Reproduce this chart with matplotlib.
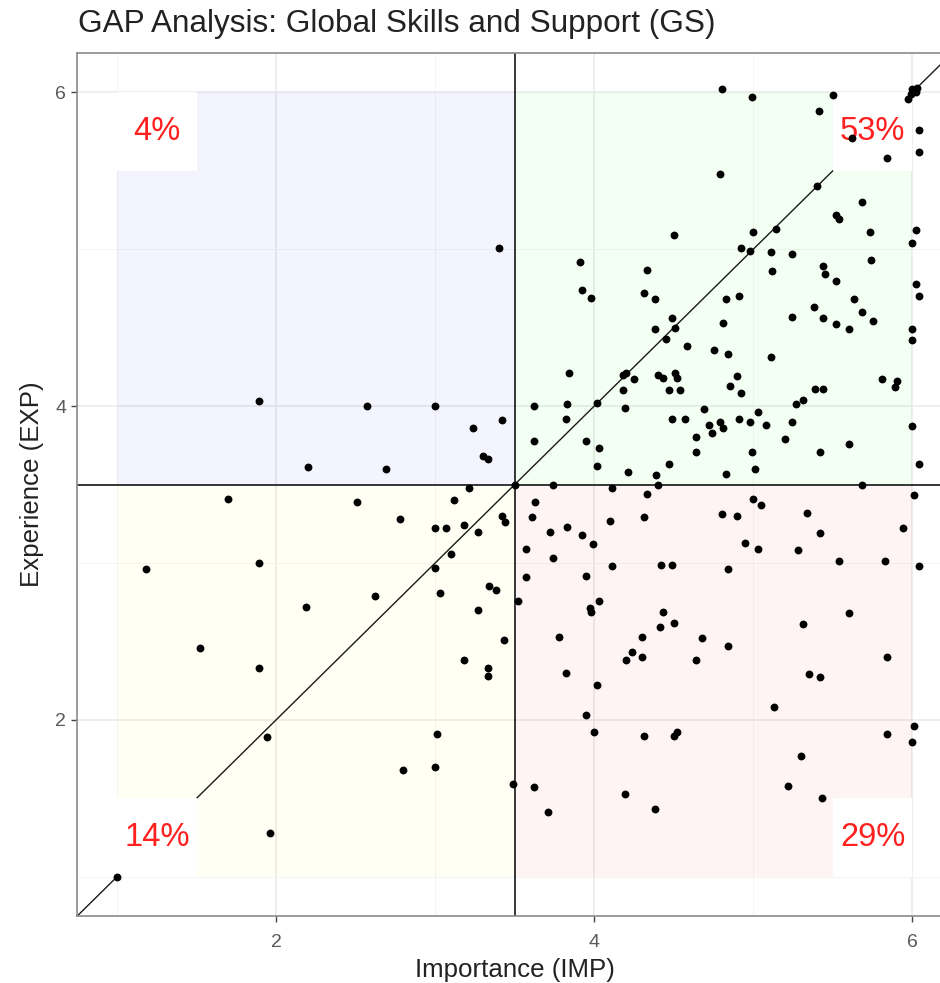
import matplotlib
matplotlib.use("Agg")
import matplotlib.pyplot as plt
from matplotlib.patches import Rectangle

plt.rcParams['font.family'] = ['Liberation Sans', 'DejaVu Sans']

title = "GAP Analysis: Global Skills and Support (GS)"
x_label = "Importance (IMP)"
y_label = "Experience (EXP)"

# quadrant labels (share of respondents)
quad_labels = ["4%", "53%", "14%", "29%"]

# Importance (IMP) / Experience (EXP) per respondent
imp = [
    # upper-left
    1.89, 2.57, 2.20, 2.69, 3.00, 3.40, 3.24, 3.42, 3.30, 3.33,
    # centre
    3.50,
    # lower-left
    1.70, 2.51, 1.18, 1.89, 2.62, 2.19, 1.52, 1.89, 1.94, 1.96, 1.00,
    3.21, 3.12, 2.78, 3.00, 3.07, 3.18, 3.27, 3.42, 3.44, 3.10, 3.00, 3.03,
    3.34, 3.38, 3.27, 3.43, 3.18, 3.33, 3.33, 3.01, 3.00, 2.80, 3.49,
    # lower-right
    3.74, 4.11, 4.33, 3.63, 3.61, 3.72, 3.83, 3.92, 3.99, 4.10, 4.31, 3.57,
    3.74, 4.11, 3.95, 3.57, 3.52, 4.03, 3.97, 3.98, 3.78, 4.30, 4.24, 4.20,
    4.30, 3.82, 4.02, 3.95, 4.00, 4.31, 3.62, 3.71, 4.19, 4.38,
    4.40, 5.68, 6.01, 5.00, 5.05, 4.80, 4.90, 5.34, 5.42, 5.94, 4.95, 5.03,
    5.28, 4.42, 4.49, 4.84, 5.54, 5.83, 6.04, 4.43, 4.41, 4.50, 4.68, 4.84,
    4.64, 5.31, 5.60, 5.84, 5.35, 5.42, 5.13, 4.50, 4.52, 5.84, 6.01, 6.00,
    5.30, 5.22, 5.43,
    # upper-right
    3.91, 4.33, 3.92, 3.98, 4.31, 3.84, 4.18, 4.20, 4.25, 4.18, 3.62, 3.83,
    4.02, 4.19, 3.82, 3.62, 3.95, 4.03, 4.02, 4.21,
    4.80, 4.99, 5.50, 5.41, 5.62, 5.84, 6.04, 6.04, 5.97, 5.99, 6.00, 6.02,
    6.03, 4.79, 5.40, 5.68, 5.52, 5.54, 5.73, 6.02, 6.00, 4.50, 5.00, 5.14,
    4.92, 4.98, 5.11, 5.24, 5.12, 5.74, 5.44, 5.45, 5.52, 6.02, 6.04, 4.38,
    4.83, 4.91, 5.63, 5.68, 5.38, 5.44, 5.52, 5.60, 5.75, 6.00, 6.00, 4.49,
    4.51, 4.38, 4.45, 4.81, 5.24, 4.58, 4.75, 4.84, 5.11, 4.40, 4.43, 4.51,
    4.52, 4.47, 4.54, 4.90, 4.85, 4.92, 5.39, 5.44, 5.27, 5.31, 5.81, 5.90,
    5.89, 4.69, 4.49, 4.57, 4.72, 4.74, 4.79, 4.81, 4.91, 4.98, 5.03, 5.08,
    5.24, 5.20, 4.64, 4.64, 4.99, 5.01, 4.83, 4.47, 4.39, 5.42, 5.60, 6.00,
    6.04,
]
exp = [
    # upper-left
    4.03, 4.00, 3.61, 3.60, 4.00, 5.01, 3.86, 3.91, 3.68, 3.66,
    # centre
    3.50,
    # lower-left
    3.41, 3.39, 2.96, 3.00, 2.79, 2.72, 2.46, 2.33, 1.89, 1.28, 1.00,
    3.48, 3.40, 3.28, 3.22, 3.22, 3.24, 3.20, 3.30, 3.26, 3.06, 2.97, 2.81,
    2.85, 2.83, 2.70, 2.51, 2.38, 2.33, 2.28, 1.91, 1.70, 1.68, 1.59,
    # lower-right
    3.50, 3.48, 3.44, 3.39, 3.29, 3.20, 3.23, 3.18, 3.12, 3.27, 3.29, 3.09,
    3.03, 2.98, 2.92, 2.91, 2.76, 2.76, 2.71, 2.69, 2.53, 2.53, 2.43, 2.38,
    2.40, 2.30, 2.22, 2.03, 1.92, 1.90, 1.57, 1.41, 1.53, 1.43,
    3.50, 3.50, 3.43, 3.41, 3.37, 3.31, 3.30, 3.32, 3.19, 3.22, 3.13, 3.09,
    3.08, 2.99, 2.99, 2.96, 3.01, 3.01, 2.98, 2.69, 2.59, 2.62, 2.52, 2.47,
    2.38, 2.61, 2.68, 2.40, 2.29, 2.27, 2.08, 1.90, 1.92, 1.91, 1.96, 1.86,
    1.77, 1.58, 1.50,
    # upper-right
    4.92, 4.87, 4.74, 4.69, 4.72, 4.21, 4.20, 4.21, 4.17, 4.10, 4.00, 4.01,
    4.02, 3.99, 3.92, 3.78, 3.78, 3.73, 3.62, 3.58,
    6.02, 5.97, 5.98, 5.88, 5.71, 5.58, 5.76, 5.62, 5.96, 5.99, 6.02, 6.00,
    6.03, 5.48, 5.40, 5.30, 5.22, 5.19, 5.11, 5.12, 5.04, 5.09, 5.11, 5.13,
    5.01, 4.99, 4.98, 4.97, 4.86, 4.93, 4.89, 4.84, 4.80, 4.78, 4.70, 4.68,
    4.68, 4.70, 4.68, 4.60, 4.63, 4.56, 4.52, 4.49, 4.54, 4.49, 4.42, 4.56,
    4.50, 4.49, 4.43, 4.53, 4.57, 4.38, 4.36, 4.33, 4.31, 4.20, 4.18, 4.21,
    4.18, 4.10, 4.10, 4.19, 4.13, 4.08, 4.11, 4.11, 4.01, 4.04, 4.17, 4.16,
    4.12, 3.98, 3.92, 3.92, 3.88, 3.83, 3.90, 3.86, 3.92, 3.90, 3.96, 3.88,
    3.90, 3.79, 3.80, 3.71, 3.71, 3.60, 3.57, 3.63, 3.56, 3.71, 3.76, 3.87,
    3.63,
]

x_ticks = [2, 4, 6]
y_ticks = [2, 4, 6]

mid = 3.5
lo, hi = 1.0, 6.0

fig = plt.figure(figsize=(9.4, 9.83), dpi=100)
ax = fig.add_axes([77.25 / 940, 67 / 983, 875 / 940, 863 / 983])
ax.set_xlim(0.75, 6.25)
ax.set_ylim(0.75, 6.25)

ax.set_xticks(x_ticks)
ax.set_yticks(y_ticks)
ax.set_xticks([1, 3, 5], minor=True)
ax.set_yticks([1, 3, 5], minor=True)
ax.grid(which='major', color='#EBEBEB', lw=1.2, zorder=0)
ax.grid(which='minor', color='#F4F4F4', lw=0.7, zorder=0)
ax.set_axisbelow(True)

# quadrant backgrounds
quads = [((lo, mid), '#0000FF'), ((mid, mid), '#00FF00'), ((lo, lo), '#FFFF00'), ((mid, lo), '#FF0000')]
for (x0, y0), col in quads:
    ax.add_patch(Rectangle((x0, y0), mid - lo, hi - mid, facecolor=col, alpha=0.045,
                           lw=0, zorder=1))

ax.axvline(mid, color='black', lw=1.1, zorder=2)
ax.axhline(mid, color='black', lw=1.1, zorder=2)
ax.axline((0, 0), (1, 1), color='#1a1a1a', lw=1.0, zorder=2)

# label boxes and texts
box = 0.5
corners = [(lo, hi - box), (hi - box, hi - box), (lo, lo), (hi - box, lo)]
for (bx, by), lab in zip(corners, quad_labels):
    ax.add_patch(Rectangle((bx, by), box, box, facecolor='white', lw=0, zorder=3))
    ax.text(bx + box / 2, by + box / 2, lab, color='#FF2020', fontsize=23.5,
            ha='center', va='center', zorder=4)

ax.scatter(imp, exp, s=32, color='black', lw=0, zorder=5)

for sp in ax.spines.values():
    sp.set_color('#8a8a8a')
    sp.set_linewidth(1.2)

ax.tick_params(which='major', length=4, width=1.0, color='#444444',
               labelcolor='#5a5a5a', labelsize=14)
ax.tick_params(axis='x', which='major', pad=9)
ax.tick_params(axis='y', which='major', pad=4)
ax.tick_params(which='minor', length=0)

ax.set_xlabel(x_label, fontsize=18.6, color='#222222', labelpad=5)
ax.set_ylabel(y_label, fontsize=18.6, color='#222222', labelpad=8)

fig.text(78 / 940, 1 - 32 / 983, title, fontsize=22.7, color='#222222',
         ha='left', va='baseline')

fig.savefig('out.png', dpi=100)
